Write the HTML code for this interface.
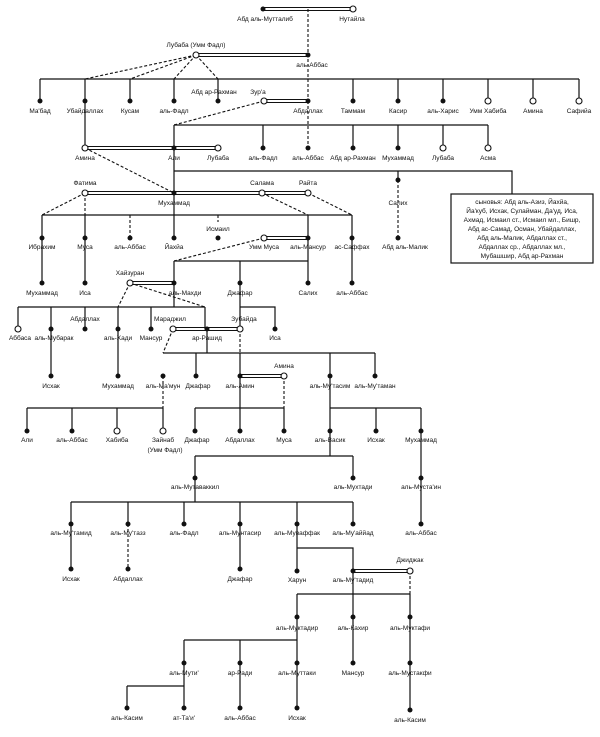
<!DOCTYPE html>
<html><head><meta charset="utf-8"><style>
html,body{margin:0;padding:0;background:#fff}
svg{display:block}
text{font-family:"Liberation Sans",sans-serif;font-size:6.5px;fill:#111;text-anchor:middle}
.l{stroke:#111;stroke-width:1.2;fill:none}
.ds{stroke:#111;stroke-width:1.1;fill:none;stroke-dasharray:3,2}
.db1{stroke:#111;stroke-width:4}
.db2{stroke:#fff;stroke-width:2}
.o{fill:#fff;stroke:#111;stroke-width:1.1}
.f{fill:#111}
</style></head><body>
<svg width="600" height="737" viewBox="0 0 600 737" xmlns="http://www.w3.org/2000/svg">
<g>
<line class="db1" x1="263" y1="9" x2="353" y2="9"/><line class="db2" x1="263" y1="9" x2="353" y2="9"/>
<line class="db1" x1="196" y1="55" x2="308" y2="55"/><line class="db2" x1="196" y1="55" x2="308" y2="55"/>
<line class="db1" x1="264" y1="101" x2="308" y2="101"/><line class="db2" x1="264" y1="101" x2="308" y2="101"/>
<line class="db1" x1="85" y1="148" x2="218" y2="148"/><line class="db2" x1="85" y1="148" x2="218" y2="148"/>
<line class="db1" x1="85" y1="193" x2="262" y2="193"/><line class="db2" x1="85" y1="193" x2="262" y2="193"/>
<line class="db1" x1="262" y1="193" x2="308" y2="193"/><line class="db2" x1="262" y1="193" x2="308" y2="193"/>
<line class="db1" x1="264" y1="238" x2="308" y2="238"/><line class="db2" x1="264" y1="238" x2="308" y2="238"/>
<line class="db1" x1="130" y1="283" x2="174" y2="283"/><line class="db2" x1="130" y1="283" x2="174" y2="283"/>
<line class="db1" x1="173" y1="329" x2="240" y2="329"/><line class="db2" x1="173" y1="329" x2="240" y2="329"/>
<line class="db1" x1="240" y1="376" x2="284" y2="376"/><line class="db2" x1="240" y1="376" x2="284" y2="376"/>
<line class="db1" x1="353" y1="571" x2="410" y2="571"/><line class="db2" x1="353" y1="571" x2="410" y2="571"/>
</g>
<path class="ds" d="M308 9V101M308 101V148M196 55L85 79M196 55L130 79M196 55L174 79M196 55L218 79M264 101L174 125M85 148L174 193M85 193L42 215M85 193V215M262 193L308 215M308 193L352 215M398 180V238M130 215V238M218 215V222M264 238L174 261M130 283L118 307M130 283L205 307M173 329L163 353M240 329V353M163 376V408M284 376V408M128 524V569M410 571V594"/>
<path class="l" d="M40 79H579M40 79V101M85 79V101M130 79V101M174 79V101M218 79V101M353 79V101M398 79V101M443 79V101M488 79V101M533 79V101M579 79V101
M85 101V148M174 125H488M174 125V148M263 125V148M353 125V148M398 125V148M443 125V148M488 125V148
M174 148V238M174 171H512V194M398 171V180
M42 215H352M42 215V238M85 215V238M308 215V238M352 215V283M42 238V283M85 238V283
M174 261H308M174 261V283M240 261V283M308 238V283M174 283V307H205
M18 307H205M18 307V329M51 307V329M85 307V329M118 307V329M151 307V329M205 307V329
M240 283V329M240 307H275V329M207 329V353M163 353H375M196 353V376M330 353V376M375 353V376M240 353V376
M51 329V376M118 329V376M27 408H163M27 408V431M72 408V431M117 408V431M163 408V431
M240 376V431M195 408H284M195 408V431M284 408V431M330 376V431M330 408H421M376 408V431M421 408V524
M330 431V456M195 456H353M195 456V478M353 456V478M195 478V502M71 502H353M71 502V524M128 502V524M184 502V524M240 502V524M297 502V524M353 502V524
M71 524V569M240 524V569M297 524V571M297 548H353V571M297 594H410M297 594V617M353 571V617M410 594V617
M297 617V663M184 640H297M184 640V663M240 640V663M353 617V663M410 617V710M184 663V708M127 686H184M127 686V708M240 663V708M297 663V708"/>
<rect x="451" y="194" width="142" height="69" fill="#fff" stroke="#111" stroke-width="1.2"/>
<text x="522" y="204">сыновья: Абд аль-Азиз, Йахйа,</text>
<text x="522" y="213">Йа'куб, Исхак, Сулайман, Да'уд, Иса,</text>
<text x="522" y="222">Ахмад, Исмаил ст., Исмаил мл., Бишр,</text>
<text x="522" y="231">Абд ас-Самад, Осман, Убайдаллах,</text>
<text x="522" y="240">Абд аль-Малик, Абдаллах ст.,</text>
<text x="522" y="249">Абдаллах ср., Абдаллах мл.,</text>
<text x="522" y="258">Мубашшир, Абд ар-Рахман</text>
<g class="f">
<circle cx="263" cy="9" r="2.5"/><circle cx="308" cy="55" r="2.5"/>
<circle cx="40" cy="101" r="2.5"/><circle cx="85" cy="101" r="2.5"/><circle cx="130" cy="101" r="2.5"/><circle cx="174" cy="101" r="2.5"/><circle cx="218" cy="101" r="2.5"/><circle cx="308" cy="101" r="2.5"/><circle cx="353" cy="101" r="2.5"/><circle cx="398" cy="101" r="2.5"/><circle cx="443" cy="101" r="2.5"/>
<circle cx="174" cy="148" r="2.5"/><circle cx="263" cy="148" r="2.5"/><circle cx="308" cy="148" r="2.5"/><circle cx="353" cy="148" r="2.5"/><circle cx="398" cy="148" r="2.5"/>
<circle cx="174" cy="193" r="2.5"/><circle cx="398" cy="180" r="2.5"/>
<circle cx="42" cy="238" r="2.5"/><circle cx="85" cy="238" r="2.5"/><circle cx="130" cy="238" r="2.5"/><circle cx="174" cy="238" r="2.5"/><circle cx="218" cy="238" r="2.5"/><circle cx="308" cy="238" r="2.5"/><circle cx="352" cy="238" r="2.5"/><circle cx="398" cy="238" r="2.5"/>
<circle cx="42" cy="283" r="2.5"/><circle cx="85" cy="283" r="2.5"/><circle cx="174" cy="283" r="2.5"/><circle cx="240" cy="283" r="2.5"/><circle cx="308" cy="283" r="2.5"/><circle cx="352" cy="283" r="2.5"/>
<circle cx="51" cy="329" r="2.5"/><circle cx="85" cy="329" r="2.5"/><circle cx="118" cy="329" r="2.5"/><circle cx="151" cy="329" r="2.5"/><circle cx="207" cy="329" r="2.5"/><circle cx="275" cy="329" r="2.5"/>
<circle cx="51" cy="376" r="2.5"/><circle cx="118" cy="376" r="2.5"/><circle cx="163" cy="376" r="2.5"/><circle cx="196" cy="376" r="2.5"/><circle cx="240" cy="376" r="2.5"/><circle cx="330" cy="376" r="2.5"/><circle cx="375" cy="376" r="2.5"/>
<circle cx="27" cy="431" r="2.5"/><circle cx="72" cy="431" r="2.5"/><circle cx="195" cy="431" r="2.5"/><circle cx="240" cy="431" r="2.5"/><circle cx="284" cy="431" r="2.5"/><circle cx="330" cy="431" r="2.5"/><circle cx="376" cy="431" r="2.5"/><circle cx="421" cy="431" r="2.5"/>
<circle cx="195" cy="478" r="2.5"/><circle cx="353" cy="478" r="2.5"/><circle cx="421" cy="478" r="2.5"/>
<circle cx="71" cy="524" r="2.5"/><circle cx="128" cy="524" r="2.5"/><circle cx="184" cy="524" r="2.5"/><circle cx="240" cy="524" r="2.5"/><circle cx="297" cy="524" r="2.5"/><circle cx="353" cy="524" r="2.5"/><circle cx="421" cy="524" r="2.5"/>
<circle cx="71" cy="569" r="2.5"/><circle cx="128" cy="569" r="2.5"/><circle cx="240" cy="569" r="2.5"/><circle cx="297" cy="571" r="2.5"/><circle cx="353" cy="571" r="2.5"/>
<circle cx="297" cy="617" r="2.5"/><circle cx="353" cy="617" r="2.5"/><circle cx="410" cy="617" r="2.5"/>
<circle cx="184" cy="663" r="2.5"/><circle cx="240" cy="663" r="2.5"/><circle cx="297" cy="663" r="2.5"/><circle cx="353" cy="663" r="2.5"/><circle cx="410" cy="663" r="2.5"/>
<circle cx="127" cy="708" r="2.5"/><circle cx="184" cy="708" r="2.5"/><circle cx="240" cy="708" r="2.5"/><circle cx="297" cy="708" r="2.5"/><circle cx="410" cy="710" r="2.5"/>
</g>
<g class="o">
<circle cx="353" cy="9" r="3"/><circle cx="196" cy="55" r="3"/><circle cx="264" cy="101" r="3"/>
<circle cx="488" cy="101" r="3"/><circle cx="533" cy="101" r="3"/><circle cx="579" cy="101" r="3"/>
<circle cx="85" cy="148" r="3"/><circle cx="218" cy="148" r="3"/><circle cx="443" cy="148" r="3"/><circle cx="488" cy="148" r="3"/>
<circle cx="85" cy="193" r="3"/><circle cx="262" cy="193" r="3"/><circle cx="308" cy="193" r="3"/>
<circle cx="264" cy="238" r="3"/><circle cx="130" cy="283" r="3"/>
<circle cx="18" cy="329" r="3"/><circle cx="173" cy="329" r="3"/><circle cx="240" cy="329" r="3"/>
<circle cx="284" cy="376" r="3"/><circle cx="117" cy="431" r="3"/><circle cx="163" cy="431" r="3"/><circle cx="410" cy="571" r="3"/>
</g>
<text x="265" y="21">Абд аль-Мутталиб</text><text x="352" y="21">Нутайла</text>
<text x="196" y="47">Лубаба (Умм Фадл)</text><text x="312" y="67">аль-Аббас</text>
<text x="40" y="113">Ма'бад</text><text x="85" y="113">Убайдаллах</text><text x="130" y="113">Кусам</text><text x="174" y="113">аль-Фадл</text><text x="214" y="94">Абд ар-Рахман</text><text x="258" y="94">Зур'а</text>
<text x="308" y="113">Абдаллах</text><text x="353" y="113">Таммам</text><text x="398" y="113">Касир</text><text x="443" y="113">аль-Харис</text><text x="488" y="113">Умм Хабиба</text><text x="533" y="113">Амина</text><text x="579" y="113">Сафийа</text>
<text x="85" y="160">Амина</text><text x="174" y="160">Али</text><text x="218" y="160">Лубаба</text><text x="263" y="160">аль-Фадл</text><text x="308" y="160">аль-Аббас</text><text x="353" y="160">Абд ар-Рахман</text><text x="398" y="160">Мухаммад</text><text x="443" y="160">Лубаба</text><text x="488" y="160">Асма</text>
<text x="85" y="185">Фатима</text><text x="262" y="185">Салама</text><text x="308" y="185">Райта</text><text x="174" y="205">Мухаммад</text><text x="398" y="205">Салих</text>
<text x="218" y="231">Исмаил</text>
<text x="42" y="249">Ибрахим</text><text x="85" y="249">Муса</text><text x="130" y="249">аль-Аббас</text><text x="174" y="249">Йахйа</text><text x="264" y="249">Умм Муса</text><text x="308" y="249">аль-Мансур</text><text x="352" y="249">ас-Саффах</text><text x="405" y="249">Абд аль-Малик</text>
<text x="130" y="275">Хайзуран</text>
<text x="42" y="295">Мухаммад</text><text x="85" y="295">Иса</text><text x="185" y="295">аль-Махди</text><text x="240" y="295">Джафар</text><text x="308" y="295">Салих</text><text x="352" y="295">аль-Аббас</text>
<text x="85" y="321">Абдаллах</text><text x="170" y="321">Мараджил</text><text x="244" y="321">Зубайда</text>
<text x="20" y="340">Аббаса</text><text x="54" y="340">аль-Мубарак</text><text x="118" y="340">аль-Хади</text><text x="151" y="340">Мансур</text><text x="207" y="340">ар-Рашид</text><text x="275" y="340">Иса</text>
<text x="284" y="368">Амина</text>
<text x="51" y="388">Исхак</text><text x="118" y="388">Мухаммад</text><text x="163" y="388">аль-Ма'мун</text><text x="198" y="388">Джафар</text><text x="240" y="388">аль-Амин</text><text x="330" y="388">аль-Му'тасим</text><text x="375" y="388">аль-Му'таман</text>
<text x="27" y="442">Али</text><text x="72" y="442">аль-Аббас</text><text x="117" y="442">Хабиба</text><text x="163" y="442">Зайнаб</text><text x="165" y="452">(Умм Фадл)</text>
<text x="197" y="442">Джафар</text><text x="240" y="442">Абдаллах</text><text x="284" y="442">Муса</text><text x="330" y="442">аль-Васик</text><text x="376" y="442">Исхак</text><text x="421" y="442">Мухаммад</text>
<text x="195" y="489">аль-Мутаваккил</text><text x="353" y="489">аль-Мухтади</text><text x="421" y="489">аль-Муста'ин</text>
<text x="71" y="535">аль-Му'тамид</text><text x="128" y="535">аль-Му'тазз</text><text x="184" y="535">аль-Фадл</text><text x="240" y="535">аль-Мунтасир</text><text x="297" y="535">аль-Муваффак</text><text x="353" y="535">аль-Му'аййад</text><text x="421" y="535">аль-Аббас</text>
<text x="410" y="562">Джиджак</text>
<text x="71" y="581">Исхак</text><text x="128" y="581">Абдаллах</text><text x="240" y="581">Джафар</text><text x="297" y="582">Харун</text><text x="353" y="582">аль-Му'тадид</text>
<text x="297" y="630">аль-Муктадир</text><text x="353" y="630">аль-Кахир</text><text x="410" y="630">аль-Муктафи</text>
<text x="184" y="675">аль-Мути'</text><text x="240" y="675">ар-Ради</text><text x="297" y="675">аль-Муттаки</text><text x="353" y="675">Мансур</text><text x="410" y="675">аль-Мустакфи</text>
<text x="127" y="720">аль-Касим</text><text x="184" y="720">ат-Та'и'</text><text x="240" y="720">аль-Аббас</text><text x="297" y="720">Исхак</text><text x="410" y="722">аль-Касим</text>
</svg>
</body></html>
